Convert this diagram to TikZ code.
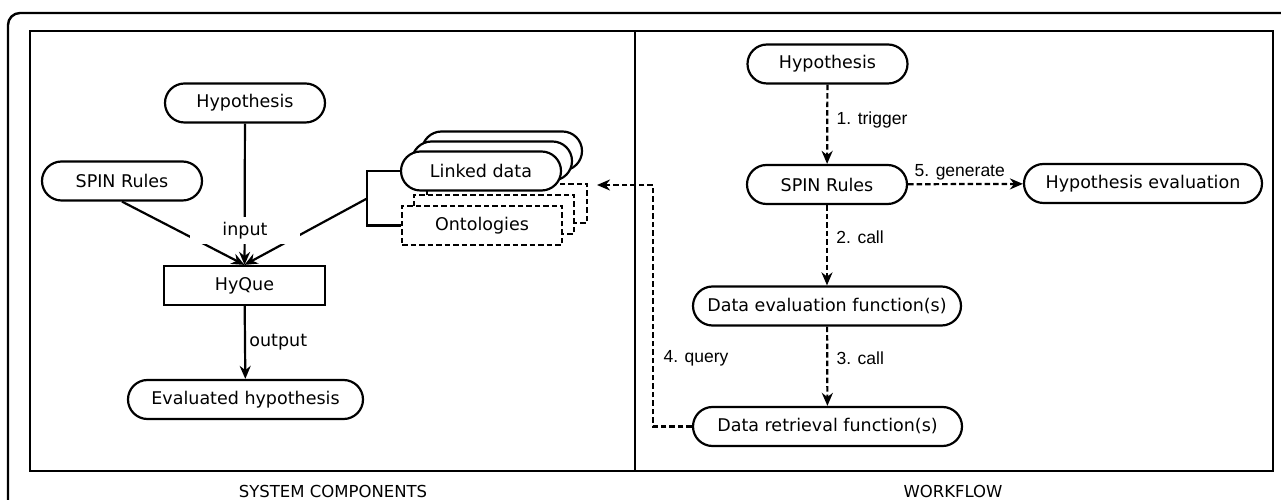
\documentclass[tikz,border=0pt]{standalone}
\usepackage{fontspec}
\setmainfont{DejaVu Sans}
\newfontfamily\steplabelfont{Liberation Sans}
\usetikzlibrary{arrows.meta}

\tikzset{
	pill/.style={rectangle,draw,line width=2.2pt,rounded corners=19.5pt,minimum height=39pt,fill=white,inner sep=0pt},
	dashbox/.style={rectangle,draw,line width=2.2pt,dash pattern=on 5.5pt off 3pt,minimum height=39pt,minimum width=160pt,fill=white,inner sep=0pt},
	flow/.style={-{Stealth[length=13pt,width=11pt]},line width=2.2pt},
	wflow/.style={flow,dash pattern=on 5.5pt off 3pt},
	steplabel/.style={font=\steplabelfont\fontsize{17.5pt}{21pt}\selectfont},
	paneltitle/.style={font=\fontsize{16.5pt}{20pt}\selectfont}
}

\begin{document}
\begin{tikzpicture}[x=1pt,y=1pt,font=\fontsize{17.5pt}{21pt}\selectfont]
	\useasboundingbox (0,0) rectangle (1281,500);
	\clip (0,0) rectangle (1281,500);
	% frames
	\draw[line width=2.4pt,rounded corners=12pt] (8,-30) -- (8,487) -- (1310,487);
	\draw[line width=2.8pt] (30,29) rectangle (1273,469);
	\draw[line width=2.4pt] (635,29) -- (635,469);
	\node[paneltitle] (syscomp) at (333,8.5) {SYSTEM COMPONENTS};
	\node[paneltitle] (workflow) at (953,8.5) {WORKFLOW};

	% system components
	\node[pill,minimum width=160pt] (hypL) at (245,397) {Hypothesis};
	\node[pill,minimum width=160pt] (spinL) at (122,319) {SPIN Rules};
	\node[rectangle,draw,line width=2.2pt,minimum width=161pt,minimum height=39pt] (hyque) at (244.5,214.5) {HyQue};
	\node[pill,minimum width=235pt] (evalL) at (245.5,100.5) {Evaluated hypothesis};
	\node[dashbox] (ontoc) at (507,296.5) {};
	\node[dashbox] (ontob) at (494,285.5) {};
	\node[dashbox] (onto) at (482,274.5) {Ontologies};
	\node[pill,minimum width=160pt] (linkedc) at (502,349) {};
	\node[pill,minimum width=160pt] (linkedb) at (492,339) {};
	\node[pill,minimum width=160pt] (linked) at (481,329) {Linked data};
	\coordinate (brmid) at (367,301.5);
	\draw[line width=2.2pt] (linked.west) -| (brmid) |- (onto.west);
	\draw[flow] (spinL.south) -- (hyque.north);
	\draw[flow] (hypL) -- (hyque);
	\draw[flow] (brmid) -- (hyque.north);
	\node[fill=white,minimum width=110pt,minimum height=27pt,inner sep=0pt] (inputlbl) at (245,269) {input};
	\draw[flow] (hyque) -- node[right] (outputlbl) {output} (evalL);

	% workflow
	\node[pill,minimum width=160pt] (hypR) at (827.5,436) {Hypothesis};
	\node[pill,minimum width=160pt] (spinR) at (827,315.5) {SPIN Rules};
	\node[pill,minimum width=238pt] (hypeval) at (1143,316.5) {Hypothesis evaluation};
	\node[pill,minimum width=268pt] (dataeval) at (827,194) {Data evaluation function(s)};
	\node[pill,minimum width=269pt] (dataret) at (827.5,73.5) {Data retrieval function(s)};
	\draw[wflow] (hypR) -- node[steplabel,right=5pt,pos=0.45] (trigger) {1. trigger} (spinR);
	\draw[wflow] (spinR) -- node[steplabel,above,pos=0.45] (generate) {5. generate} (hypeval);
	\draw[wflow] (spinR) -- node[steplabel,right=5pt,pos=0.4] (callone) {2. call} (dataeval);
	\draw[wflow] (dataeval) -- node[steplabel,right=5pt,pos=0.4] (calltwo) {3. call} (dataret);
	\coordinate (qbend) at (653,315);
	\coordinate (qtip) at (597,315);
	\draw[wflow] (dataret.west) -| (qbend) -- (qtip);
	\node[steplabel,anchor=west] (query) at (660,142) {4. query};
\end{tikzpicture}
\end{document}
